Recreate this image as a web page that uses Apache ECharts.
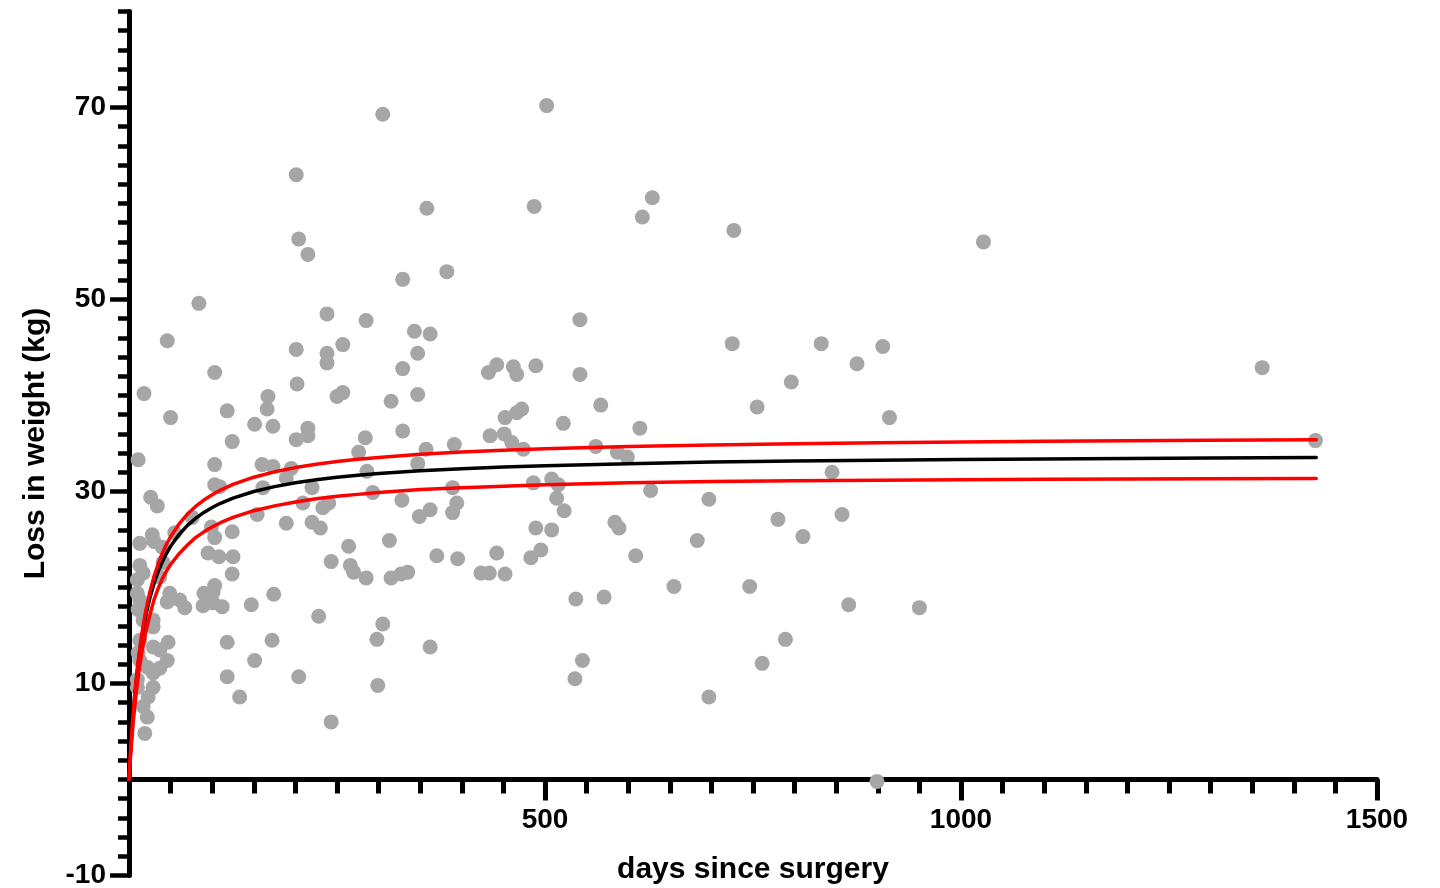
<!DOCTYPE html>
<html>
<head>
<meta charset="utf-8">
<script src="https://cdn.jsdelivr.net/npm/echarts@6/dist/echarts.min.js"></script>
<style>
  html, body { margin: 0; padding: 0; background: #fff; }
  #chart { width: 1440px; height: 888px; }
</style>
</head>
<body>
<div id="chart"></div>
<script>
// Individual patients: days since surgery and weight lost (kg)
const days = [
  305, 358, 329, 382, 238, 285, 343, 362, 257, 238, 238, 347, 329, 432, 442, 257, 250, 315, 347, 452,
  329, 284, 434, 276, 357, 391, 286, 347, 293, 240, 328, 389, 394, 389, 349, 362, 264, 313, 243, 266,
  270, 285, 315, 327, 335, 370, 395, 423, 433, 442, 452, 305, 298, 362, 299, 243,
  201, 204, 215, 84, 103, 201, 202, 118, 167, 166, 151, 173, 124, 215, 215, 201, 103, 160, 173, 195,
  189, 103, 109, 161, 220, 209, 233, 154, 189, 220, 230, 99, 103, 124, 95, 108, 125, 124, 103, 90,
  101, 67, 61, 89, 101, 112, 147, 174, 228, 118, 172, 151, 118, 204, 133,
  46, 18, 50, 11, 26, 34, 76, 13, 28, 30, 40, 55, 13, 17, 41, 37, 49, 46, 10, 10,
  13, 11, 17, 29, 29, 47, 29, 37, 46, 37, 29, 13, 11, 13, 22, 29, 23, 17, 22, 19, 10, 10,
  502, 487, 629, 617, 542, 462, 466, 489, 542, 567, 522, 614, 466, 472, 451, 460, 474, 561, 587, 599,
  486, 508, 516, 514, 523, 627, 489, 508, 584, 589, 483, 495, 609, 655, 537, 571, 545, 536,
  727, 1027, 725, 832, 906, 875, 796, 755, 914, 1362, 1426, 845, 697, 780, 857, 683, 810, 746, 865, 950,
  789, 761, 697, 899
];
const loss = [
  69.3, 59.5, 52.1, 52.9, 48.5, 47.8, 46.7, 46.4, 45.3, 44.4, 43.4, 44.4, 42.8, 42.4, 43.2, 40.3, 39.9, 39.4, 40.1, 37.7,
  36.3, 35.6, 35.8, 34.1, 34.4, 34.9, 32.1, 32.9, 29.9, 28.8, 29.1, 30.4, 28.8, 27.8, 27.4, 28.1, 24.3, 24.9, 22.7, 22.3,
  21.6, 21.0, 21.0, 21.4, 21.6, 23.3, 23.0, 21.5, 21.5, 23.6, 21.4, 16.2, 14.6, 13.8, 9.8, 6.0,
  63.0, 56.3, 54.7, 49.6, 42.4, 44.8, 41.2, 38.4, 39.9, 38.6, 37.0, 36.8, 35.2, 36.6, 35.8, 35.4, 32.8, 32.8, 32.6, 32.4,
  31.4, 30.7, 30.5, 30.4, 30.4, 28.8, 28.3, 27.6, 26.7, 26.8, 26.2, 26.3, 25.2, 25.8, 23.6, 23.2, 23.2, 21.4, 20.2, 19.4,
  19.5, 17.9, 18.7, 18.1, 18.4, 18.0, 18.2, 19.3, 17.0, 14.3, 14.5, 12.4, 10.7, 10.7, 8.6,
  45.7, 40.2, 37.7, 33.3, 29.4, 28.5, 27.3, 24.6, 25.5, 24.8, 24.2, 25.7, 22.3, 21.5, 22.6, 21.1, 19.4, 18.5, 20.8, 19.4,
  18.7, 17.7, 16.6, 16.6, 15.9, 14.3, 13.8, 13.5, 12.4, 11.6, 11.1, 14.5, 13.2, 12.4, 11.7, 9.6, 8.6, 7.6, 6.5, 4.8, 10.4, 9.6,
  70.2, 59.7, 60.6, 58.6, 47.9, 43.0, 42.2, 43.1, 42.2, 39.0, 37.1, 36.6, 38.2, 38.6, 36.0, 35.1, 34.4, 34.7, 34.1, 33.6,
  30.9, 31.3, 30.7, 29.3, 28.0, 30.1, 26.2, 26.0, 26.8, 26.2, 23.1, 23.9, 23.3, 20.1, 18.8, 19.0, 12.4, 10.5,
  57.2, 56.0, 45.4, 45.4, 45.1, 43.3, 41.4, 38.8, 37.7, 42.9, 35.3, 32.0, 29.2, 27.1, 27.6, 24.9, 25.3, 20.1, 18.2, 17.9,
  14.6, 12.1, 8.6, -0.2
];

// Fitted curve and its confidence band, sampled along the day axis
const curveDays = [0, 1, 2, 3, 5, 7, 10, 12, 15, 20, 25, 30, 35, 40, 45, 50, 60, 70, 80, 90, 100, 110, 125, 150, 175, 200, 225, 250, 275, 300, 350, 400, 450, 500, 600, 700, 800, 900, 1000, 1100, 1200, 1300, 1427];
const fitLoss   = [0, 1.62, 3.09, 4.43, 6.8, 8.81, 11.33, 12.75, 14.57, 17.0, 18.89, 20.4, 21.64, 22.67, 23.54, 24.29, 25.5, 26.44, 27.2, 27.82, 28.33, 28.77, 29.31, 30.0, 30.51, 30.91, 31.22, 31.48, 31.69, 31.88, 32.16, 32.38, 32.55, 32.69, 32.9, 33.06, 33.17, 33.26, 33.33, 33.39, 33.44, 33.48, 33.53];
const upperLoss = [0, 1.63, 3.12, 4.49, 6.9, 8.98, 11.58, 13.05, 14.96, 17.51, 19.51, 21.12, 22.44, 23.54, 24.48, 25.28, 26.59, 27.62, 28.44, 29.11, 29.67, 30.15, 30.74, 31.49, 32.05, 32.49, 32.84, 33.12, 33.35, 33.55, 33.87, 34.11, 34.3, 34.45, 34.69, 34.85, 34.98, 35.08, 35.16, 35.23, 35.28, 35.33, 35.38];
const lowerLoss = [0, 1.35, 2.6, 3.8, 5.9, 7.7, 10.0, 11.3, 13.0, 15.3, 17.1, 18.7, 19.9, 20.9, 21.7, 22.4, 23.5, 24.4, 25.2, 25.8, 26.3, 26.75, 27.3, 28.0, 28.5, 28.9, 29.25, 29.5, 29.7, 29.9, 30.2, 30.4, 30.55, 30.7, 30.9, 31.05, 31.12, 31.18, 31.23, 31.27, 31.3, 31.33, 31.35];

// Labelled y ticks (drawn on an offset axis so they fall on -10, 10, 30 ...)
const yTickLabels = ['-10', '10', '30', '50', '70'];

const FONT = '"Liberation Sans", Arial, Helvetica, sans-serif';
const pairs = (xs, ys) => xs.map((x, i) => [x, ys[i]]);

const chart = echarts.init(document.getElementById('chart'), null, { renderer: 'canvas' });

// Plot frame: y from -10 (bottom) to 80 (top); the zero line sits 96 px above the bottom
const L = 129, R = 63, TOP = 11.5, BOTTOM = 12.5, ZERO_BOTTOM = 108.5;
const gridBase = { left: L, right: R, containLabel: false, outerBoundsMode: 'none' };

const curveSeries = (ys, color, z) => ({
  type: 'line', xAxisIndex: 0, yAxisIndex: 0,
  data: pairs(curveDays, ys),
  showSymbol: false, smooth: false,
  lineStyle: { color: color, width: 3.5, join: 'round', cap: 'round' }, z: z
});

chart.setOption({
  animation: false,
  backgroundColor: '#ffffff',
  grid: [
    Object.assign({ top: TOP, bottom: BOTTOM }, gridBase),        // data + short y ticks
    Object.assign({ top: 107.5, bottom: BOTTOM }, gridBase),      // long labelled y ticks
    Object.assign({ top: TOP, bottom: ZERO_BOTTOM }, gridBase)    // day axis along y = 0
  ],
  xAxis: [
    { type: 'value', gridIndex: 0, min: 0, max: 1500, show: false },
    { type: 'value', gridIndex: 1, min: 0, max: 1500, show: false },
    {
      type: 'value', gridIndex: 2, min: 0, max: 1500, interval: 500, position: 'bottom',
      axisLine: { onZero: false, lineStyle: { color: '#000', width: 5 } },
      axisTick: { show: true, length: 21, lineStyle: { color: '#000', width: 5 } },
      minorTick: { show: true, splitNumber: 10, length: 14, lineStyle: { color: '#000', width: 5 } },
      splitLine: { show: false },
      minorSplitLine: { show: false },
      axisLabel: {
        color: '#000', fontFamily: FONT, fontWeight: 'bold', fontSize: 28, margin: 27,
        formatter: v => (v === 0 ? '' : String(v))
      },
      name: 'days since surgery', nameLocation: 'middle', nameGap: 75,
      nameTextStyle: { color: '#000', fontFamily: FONT, fontWeight: 'bold', fontSize: 30 }
    }
  ],
  yAxis: [
    {
      type: 'value', gridIndex: 0, min: -10, max: 80, interval: 2,
      axisLine: { onZero: false, lineStyle: { color: '#000', width: 5 } },
      axisTick: { show: true, length: 11, lineStyle: { color: '#000', width: 4.5 } },
      splitLine: { show: false },
      axisLabel: { show: false },
      name: 'Loss in weight (kg)', nameLocation: 'middle', nameGap: 78,
      nameTextStyle: { color: '#000', fontFamily: FONT, fontWeight: 'bold', fontSize: 30 }
    },
    {
      type: 'value', gridIndex: 1, min: 0, max: 80, interval: 20,
      axisLine: { show: false, onZero: false },
      axisTick: { show: true, length: 19, lineStyle: { color: '#000', width: 4.5 } },
      splitLine: { show: false },
      axisLabel: {
        color: '#000', fontFamily: FONT, fontWeight: 'bold', fontSize: 28, margin: 23,
        formatter: v => yTickLabels[Math.round(v / 20)] || ''
      }
    },
    { type: 'value', gridIndex: 2, min: 0, max: 80, show: false }
  ],
  series: [
    {
      type: 'scatter', xAxisIndex: 0, yAxisIndex: 0,
      data: pairs(days, loss),
      symbol: 'circle', symbolSize: 15,
      itemStyle: { color: '#a6a6a6', opacity: 1 },
      z: 5
    },
    curveSeries(fitLoss, '#000000', 6),
    curveSeries(upperLoss, '#ff0000', 7),
    curveSeries(lowerLoss, '#ff0000', 7)
  ]
});
</script>
</body>
</html>
